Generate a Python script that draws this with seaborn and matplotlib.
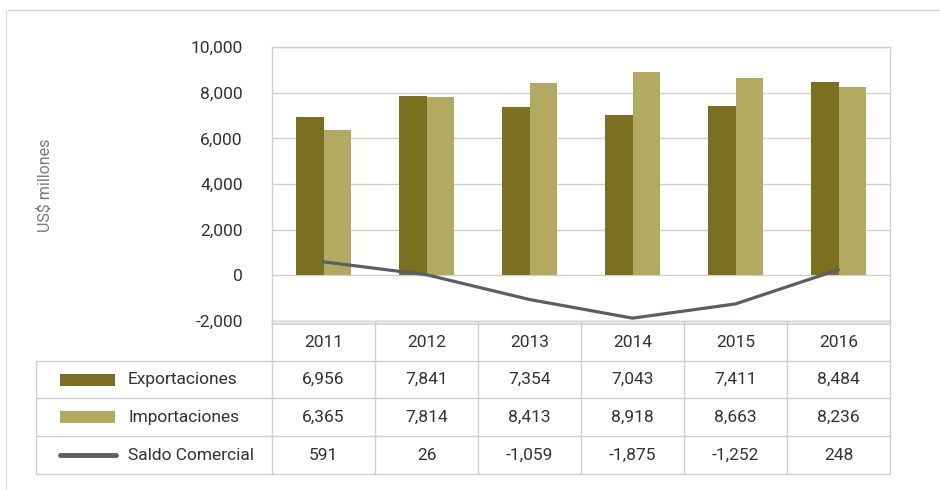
import numpy as np
import pandas as pd
import matplotlib
matplotlib.use("Agg")
import matplotlib.pyplot as plt
from matplotlib.lines import Line2D
from matplotlib.patches import Rectangle
import seaborn as sns

years = ["2011", "2012", "2013", "2014", "2015", "2016"]
exportaciones = [6956, 7841, 7354, 7043, 7411, 8484]
importaciones = [6365, 7814, 8413, 8918, 8663, 8236]
saldo = [591, 26, -1059, -1875, -1252, 248]
series_names = ["Exportaciones", "Importaciones", "Saldo Comercial"]
yticks = [-2000, 0, 2000, 4000, 6000, 8000, 10000]

C_EXP = "#7b701f"
C_IMP = "#b2aa60"
C_LINE = "#5a5e66"
C_GRID = "#cfcfcf"
C_TXT = "#333333"

sns.set_theme(style="white")
plt.rcParams["font.family"] = ["Roboto", "DejaVu Sans"]
FS = 12.5

W, H = 940, 490
fig = plt.figure(figsize=(W / 100, H / 100), dpi=100)
fig.patch.set_facecolor("white")

def fx(px):
    return px / W

def fy(py):
    return 1 - py / H

left, right, top, bottom = 272, 890, 47, 321
ax = fig.add_axes([fx(left), fy(bottom), fx(right - left), (bottom - top) / H])

df = pd.DataFrame({
    "year": years * 2,
    "value": exportaciones + importaciones,
    "serie": [series_names[0]] * len(years) + [series_names[1]] * len(years),
})
sns.barplot(data=df, x="year", y="value", hue="serie", order=years,
            palette=[C_EXP, C_IMP], width=0.54, saturation=1, ax=ax,
            legend=False, linewidth=0)
dfl = pd.DataFrame({"year": years, "saldo": saldo})
sns.pointplot(data=dfl, x="year", y="saldo", order=years, color=C_LINE,
              markers="", linewidth=2.3, errorbar=None, ax=ax)

ax.set_xlim(-0.5, len(years) - 0.5)
ax.set_ylim(min(yticks), max(yticks))
ax.set_yticks(yticks)
ax.set_yticklabels([f"{v:,}" for v in yticks], fontsize=FS, color=C_TXT)
ax.tick_params(axis="y", length=0, pad=21)
ax.set_xticks([])
ax.set_xlabel("")
ax.set_ylabel("")
ax.grid(axis="y", color=C_GRID, linewidth=1)
ax.set_axisbelow(True)
for s in ax.spines.values():
    s.set_color(C_GRID)
    s.set_linewidth(1)

fig.text(fx(45), fy(185), "US$ millones", rotation=90, ha="center",
         va="center", fontsize=11.5, color="#7a7a7a")

# table
def hline(y, x0, x1, lw=1.0):
    fig.add_artist(Line2D([fx(x0), fx(x1)], [fy(y), fy(y)], color=C_GRID, lw=lw))

def vline(x, y0, y1, lw=1.0):
    fig.add_artist(Line2D([fx(x), fx(x)], [fy(y0), fy(y1)], color=C_GRID, lw=lw))

tab_left = 36
col_w = (right - left) / len(years)
rows_y = [323, 361, 398, 436, 474]
hline(324, left, right, lw=1.2)
for y in rows_y[1:]:
    hline(y, tab_left, right)
vline(tab_left, rows_y[1], rows_y[-1])
for i in range(len(years) + 1):
    vline(left + i * col_w, 321, rows_y[-1])

def row_center(r):
    return (rows_y[r] + rows_y[r + 1]) / 2

for i, yr in enumerate(years):
    fig.text(fx(left + (i + 0.5) * col_w), fy(row_center(0)), yr,
             ha="center", va="center", fontsize=FS, color=C_TXT)

table_rows = [exportaciones, importaciones, saldo]
for r, vals in enumerate(table_rows, start=1):
    for i, v in enumerate(vals):
        fig.text(fx(left + (i + 0.5) * col_w), fy(row_center(r)), f"{v:,}",
                 ha="center", va="center", fontsize=FS, color=C_TXT)
    fig.text(fx(128), fy(row_center(r)), series_names[r - 1], ha="left",
             va="center", fontsize=FS, color=C_TXT)

# legend keys
for r, c in [(1, C_EXP), (2, C_IMP)]:
    cy = row_center(r)
    fig.add_artist(Rectangle((fx(60), fy(cy + 6)), fx(55), 12 / H,
                             facecolor=c, edgecolor="none"))
cy = row_center(3)
fig.add_artist(Line2D([fx(60), fx(116)], [fy(cy), fy(cy)], color=C_LINE,
                      lw=3.5, solid_capstyle="round"))

# outer scan frame
fig.add_artist(Line2D([fx(8), fx(940)], [fy(10), fy(10)], color="#d0d0d0", lw=1))
fig.add_artist(Line2D([fx(6), fx(6)], [fy(10), fy(490)], color="#dcdcdc", lw=1))

fig.savefig("out.png", dpi=100, facecolor="white")
